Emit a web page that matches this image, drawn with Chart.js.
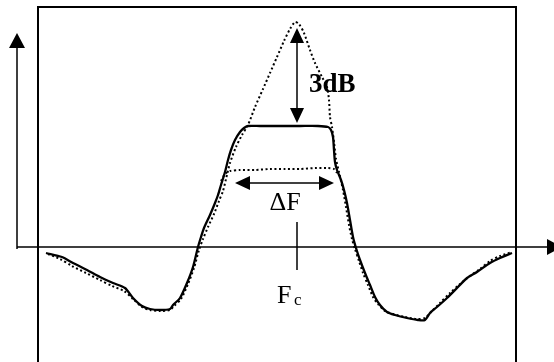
<!DOCTYPE html>
<html>
<head>
<meta charset="utf-8">
<script src="https://cdn.jsdelivr.net/npm/chart.js@4"></script>
<style>
  html, body { margin: 0; padding: 0; background: #fff; }
  #wrap { width: 554px; height: 362px; position: relative; }
</style>
</head>
<body>
<div id="wrap"><canvas id="chart"></canvas></div>
<script>
// frequency (x) and level (y), level 0 = horizontal axis
const solidFreq = [46, 62, 73, 87, 100, 113, 125, 133, 142, 150, 160, 170, 173, 180, 187, 193, 198, 201, 204, 210, 215, 218, 221, 225, 228, 231, 235, 240, 244, 248, 260, 280, 300, 318, 328, 331, 333, 334, 335, 337, 341, 344, 347, 350, 353, 356, 360, 365, 370, 375, 380, 387, 395, 407, 418, 425, 430, 437, 447, 458, 467, 477, 490, 500, 512];
const solidLevel = [-6, -10, -16, -23, -30, -36, -41, -51, -59, -62, -63, -62, -58, -51, -36, -20, 0, 10, 19, 32, 44, 52, 62, 75, 87, 97, 107, 115, 119, 121, 121, 121, 121, 121, 120, 117, 110, 97, 85, 77, 67, 57, 44, 27, 10, -1, -13, -26, -38, -50, -58, -65, -68, -71, -73, -73, -66, -60, -51, -40, -31, -25, -16, -11, -6];

const peakFreq = [48, 60, 72, 86, 100, 112, 124, 133, 142, 150, 160, 170, 174, 181, 188, 194, 199, 203, 208, 214, 219, 223, 226, 230, 236, 242, 248, 255, 263, 270, 277, 284, 290, 295, 299, 304, 310, 315, 322, 327, 329, 330, 332, 334, 336, 339, 343, 346, 349, 352, 355, 359, 363, 368, 373, 378, 385, 393, 405, 417, 425, 432, 440, 450, 460, 470, 480, 490, 500, 512];
const peakLevel = [-7, -12, -19, -26, -33, -39, -44, -52, -60, -63, -64, -63, -59, -52, -37, -21, -3, 8, 20, 33, 46, 56, 68, 84, 100, 112, 122, 140, 158, 174, 190, 206, 218, 225, 223, 214, 197, 184, 170, 160, 147, 130, 120, 105, 88, 75, 57, 40, 22, 8, -2, -14, -26, -38, -50, -57, -64, -67, -70, -72, -71, -64, -56, -46, -37, -29, -22, -14, -9, -5];

const flatFreq = [221, 225, 230, 240, 255, 270, 285, 300, 315, 328, 334, 337];
const flatLevel = [66, 73, 76, 77, 77, 78, 78, 78, 79, 79, 78, 74];

const xRange = [0, 554];
const yRange = [-115, 247];

const toPts = (xs, ys) => xs.map((x, i) => ({ x, y: ys[i] }));

// ── frame, axes and labels drawn in data units through the scales
const sketch = {
  id: "sketch",
  afterDatasetsDraw(chart) {
    const { ctx, scales } = chart;
    const X = (v) => scales.x.getPixelForValue(v);
    const Y = (v) => scales.y.getPixelForValue(v);
    ctx.save();
    ctx.strokeStyle = "#000";
    ctx.fillStyle = "#000";

    // outer frame (open at bottom)
    ctx.lineWidth = 2;
    ctx.beginPath();
    ctx.moveTo(X(38), Y(-120));
    ctx.lineTo(X(38), Y(240));
    ctx.lineTo(X(516), Y(240));
    ctx.lineTo(X(516), Y(-120));
    ctx.stroke();

    const head = (tx, ty, dx, dy, len, half) => {
      // tip at (tx,ty) pointing in direction (dx,dy)
      ctx.beginPath();
      ctx.moveTo(tx, ty);
      ctx.lineTo(tx - dx * len - dy * half, ty - dy * len + dx * half);
      ctx.lineTo(tx - dx * len + dy * half, ty - dy * len - dx * half);
      ctx.closePath();
      ctx.fill();
    };

    // axes
    ctx.lineWidth = 1.5;
    ctx.beginPath();
    ctx.moveTo(X(17), Y(-2));
    ctx.lineTo(X(17), Y(200));
    ctx.moveTo(X(17), Y(0));
    ctx.lineTo(X(548), Y(0));
    ctx.stroke();
    head(X(17), Y(214), 0, -1, 15, 8);
    head(X(562), Y(0), 1, 0, 15, 8);

    // 3dB arrow
    ctx.beginPath();
    ctx.moveTo(X(297), Y(205));
    ctx.lineTo(X(297), Y(138));
    ctx.stroke();
    head(X(297), Y(219), 0, -1, 15, 7);
    head(X(297), Y(124), 0, 1, 15, 7);

    // ΔF arrow
    ctx.beginPath();
    ctx.moveTo(X(249), Y(64));
    ctx.lineTo(X(320), Y(64));
    ctx.stroke();
    head(X(235), Y(64), -1, 0, 15, 7);
    head(X(334), Y(64), 1, 0, 15, 7);

    // Fc tick
    ctx.beginPath();
    ctx.moveTo(X(297), Y(25));
    ctx.lineTo(X(297), Y(-23));
    ctx.stroke();

    ctx.textBaseline = "alphabetic";
    ctx.font = "bold 27px 'Liberation Serif', 'Times New Roman', serif";
    ctx.textAlign = "left";
    ctx.fillText("3dB", X(309), Y(155));

    ctx.font = "26px 'Liberation Serif', 'Times New Roman', serif";
    ctx.textAlign = "center";
    ctx.fillText("ΔF", X(285), Y(37));

    ctx.textAlign = "left";
    ctx.fillText("F", X(277), Y(-56));
    ctx.font = "17px 'Liberation Serif', 'Times New Roman', serif";
    ctx.fillText("c", X(294), Y(-58));
    ctx.restore();
  },
};

new Chart(document.getElementById("chart").getContext("2d"), {
  type: "line",
  data: {
    datasets: [
      {
        label: "response",
        data: toPts(solidFreq, solidLevel),
        borderColor: "#000",
        borderWidth: 2.3,
        pointRadius: 0,
        tension: 0.25,
        fill: false,
      },
      {
        label: "peaked",
        data: toPts(peakFreq, peakLevel),
        borderColor: "#000",
        borderWidth: 2,
        borderDash: [2, 2.5],
        pointRadius: 0,
        tension: 0.25,
        fill: false,
      },
      {
        label: "flattened",
        data: toPts(flatFreq, flatLevel),
        borderColor: "#000",
        borderWidth: 2,
        borderDash: [2, 2.5],
        pointRadius: 0,
        tension: 0.25,
        fill: false,
      },
    ],
  },
  options: {
    responsive: true,
    maintainAspectRatio: false,
    animation: false,
    layout: { padding: 0 },
    plugins: { legend: { display: false }, tooltip: { enabled: false } },
    scales: {
      x: { type: "linear", min: xRange[0], max: xRange[1], display: false },
      y: { type: "linear", min: yRange[0], max: yRange[1], display: false },
    },
  },
  plugins: [sketch],
});
</script>
</body>
</html>
